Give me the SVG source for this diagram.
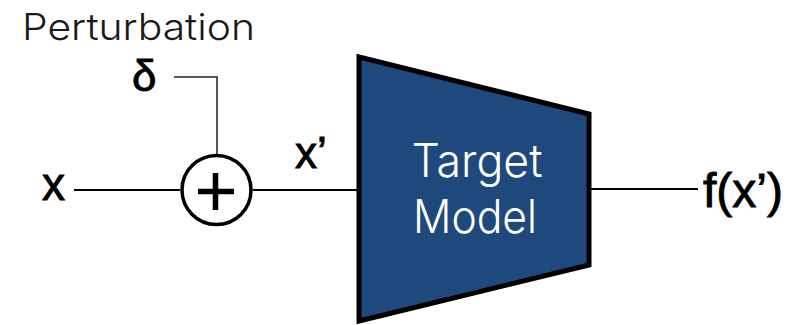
<svg xmlns="http://www.w3.org/2000/svg" width="793" height="325" viewBox="0 0 793 325">
  <style>
    .wire { fill: none; stroke: #000; stroke-width: 2; }
    .thin { fill: none; stroke: #222; stroke-width: 1.5; }
    .sym { font-family: "Liberation Sans", Arial, sans-serif; fill: #000; stroke: #000; stroke-width: 0.9; }
    .cap { font-family: Inter, "Liberation Sans", Arial, sans-serif; font-weight: 300; fill: #1a1a1a; }
    .inner { font-family: Inter, "Liberation Sans", Arial, sans-serif; font-weight: 300; fill: #fff; text-anchor: middle; }
  </style>
  <rect width="793" height="325" fill="#fff"/>

  <g id="connectors">
    <line class="wire" x1="74" y1="190" x2="180" y2="190"/>
    <line class="wire" x1="253" y1="190" x2="359" y2="190"/>
    <line class="wire" x1="591" y1="189" x2="698" y2="189"/>
    <path class="thin" d="M174 77 H217 V155"/>
  </g>

  <g id="perturbation-label">
    <text class="cap" x="22" y="40" font-size="37" textLength="233" lengthAdjust="spacingAndGlyphs">Perturbation</text>
  </g>

  <g id="delta">
    <text class="sym" x="132" y="91" font-size="44">δ</text>
  </g>

  <g id="input-x">
    <text class="sym" x="42" y="200" font-size="46">x</text>
  </g>

  <g id="adder">
    <circle cx="216.5" cy="190" r="34.5" fill="#fff" stroke="#000" stroke-width="3.5"/>
    <path d="M198 191.5 H234 M215.5 173 V210" stroke="#000" stroke-width="5.5" fill="none"/>
  </g>

  <g id="perturbed-x">
    <text class="sym" x="295" y="168" font-size="44">x’</text>
  </g>

  <g id="target-model">
    <polygon points="359,57 589,114 589,265 359,321" fill="#1F497D" stroke="#000" stroke-width="5" stroke-linejoin="miter"/>
    <text class="inner" x="477" y="177" font-size="46" textLength="131" lengthAdjust="spacingAndGlyphs">Target</text>
    <text class="inner" x="475" y="233" font-size="46" textLength="124" lengthAdjust="spacingAndGlyphs">Model</text>
  </g>

  <g id="output">
    <text class="sym" x="703" y="207" font-size="48">f(x’)</text>
  </g>
</svg>
